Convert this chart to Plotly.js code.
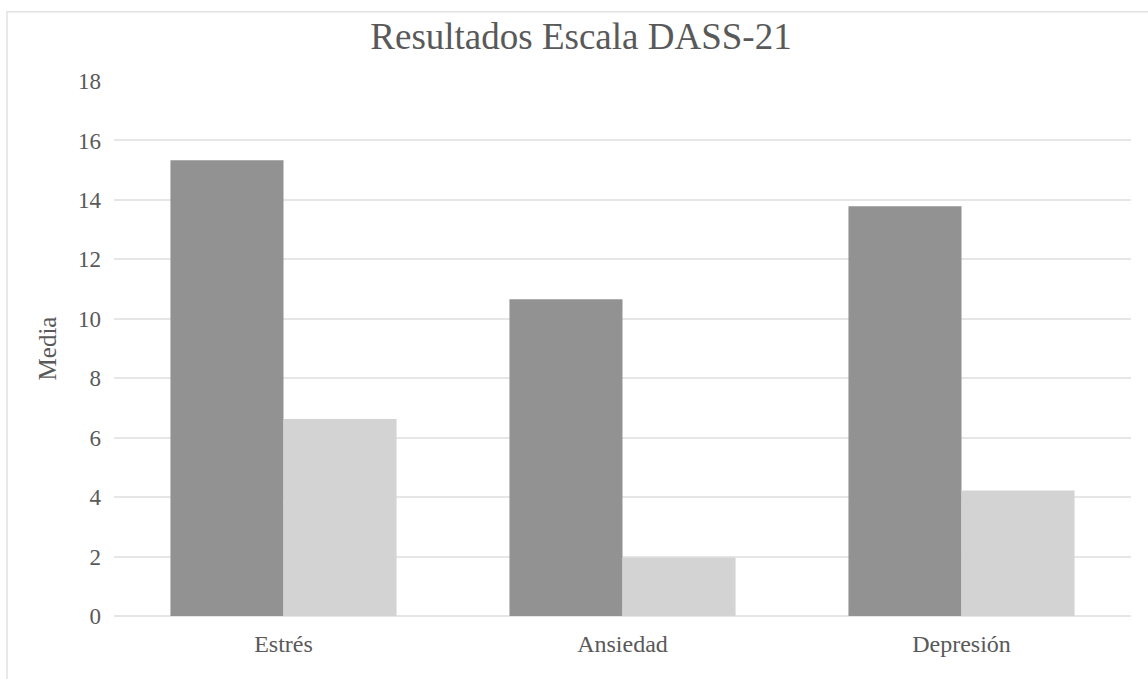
<!DOCTYPE html>
<html>
<head>
<meta charset="utf-8">
<script src="https://cdn.plot.ly/plotly-3.0.1.min.js"></script>
<style>
  html, body { margin: 0; padding: 0; background: #ffffff; }
  #chart { width: 1148px; height: 679px; }
</style>
</head>
<body>
<div id="chart"></div>
<script>
const categories = ["Estrés", "Ansiedad", "Depresión"];
const seriesA = [15.33, 10.66, 13.79];
const seriesB = [6.63, 1.97, 4.22];
const yTicks = [0, 2, 4, 6, 8, 10, 12, 14, 16, 18];

const font = "Liberation Serif";
const textColor = "#595959";

const traces = [
  { type: "bar", x: categories, y: seriesA, name: "Serie 1",
    marker: { color: "#929292" }, hoverinfo: "x+y" },
  { type: "bar", x: categories, y: seriesB, name: "Serie 2",
    marker: { color: "#d3d3d3" }, hoverinfo: "x+y" }
];

const layout = {
  width: 1148, height: 679,
  paper_bgcolor: "#ffffff", plot_bgcolor: "#ffffff",
  margin: { l: 114, r: 17, t: 81, b: 63, pad: 0 },
  showlegend: false,
  barmode: "group",
  bargap: 0.333,
  bargroupgap: 0,
  font: { family: font, color: textColor },
  title: {
    text: "Resultados Escala DASS-21",
    font: { family: font, size: 37, color: textColor },
    x: 581 / 1148, xanchor: "center", xref: "container",
    y: 0.947, yanchor: "middle", yref: "container"
  },
  xaxis: {
    type: "category",
    showgrid: false, showline: false, zeroline: false,
    ticks: "", ticklabelstandoff: 11,
    tickfont: { family: font, size: 24, color: textColor }
  },
  yaxis: {
    range: [0, 18], tickvals: yTicks, ticktext: yTicks.map(String),
    showgrid: true, gridcolor: "#e6e6e6", gridwidth: 2,
    zeroline: true, zerolinecolor: "#e6e6e6", zerolinewidth: 2,
    showline: false, ticks: "", ticklabelstandoff: 12,
    tickfont: { family: font, size: 23, color: textColor },
    title: { text: "Media", font: { family: font, size: 25, color: textColor }, standoff: 14 }
  },
  shapes: [
    { type: "rect", xref: "paper", yref: "paper",
      x0: (7 - 114) / 1017, x1: 1.2,
      y0: -0.3, y1: (615.7 - 11.5) / 535,
      line: { color: "#e2e2e2", width: 1.5 }, fillcolor: "rgba(0,0,0,0)", layer: "below" }
  ]
};

Plotly.newPlot("chart", traces, layout, { displayModeBar: false, staticPlot: true });
</script>
</body>
</html>
